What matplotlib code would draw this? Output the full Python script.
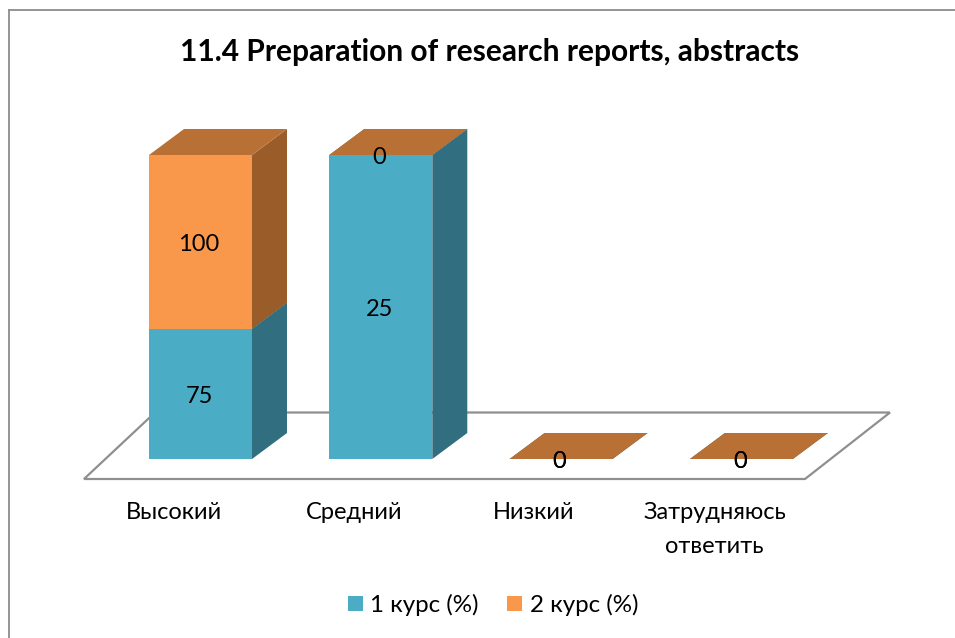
import numpy as np
import matplotlib
matplotlib.use('Agg')
import matplotlib.pyplot as plt
from matplotlib.patches import Patch, Polygon, Rectangle

plt.rcParams['font.family'] = ['Lato', 'Open Sans', 'DejaVu Sans']

# data
title = '11.4 Preparation of research reports, abstracts'
categories = ['Высокий', 'Средний', 'Низкий', 'Затрудняюсь\nответить']
series_names = ['1 курс (%)', '2 курс (%)']
course1 = [75, 25, 0, 0]
course2 = [100, 0, 0, 0]

front_colors = ['#4BACC6', '#F9974A']
side_colors = ['#316E80', '#9A5D2A']
top_colors = ['#316E80', '#B97034']

# layout in pixels
W, H = 955, 638
BAR_W = 103
PITCH = 180.3
X0 = 149
Y_BASE = 459
Y_FULL = 155
DX, DY = 35, -26
LABEL_SIZE = 17


def x_pos(i):
    return X0 + i * PITCH


def y_pos(share):
    return Y_BASE - share * (Y_BASE - Y_FULL)


fig = plt.figure(figsize=(W / 100, H / 100), dpi=100)
ax = fig.add_axes([0, 0, 1, 1])
ax.set_xlim(0, W)
ax.set_ylim(H, 0)
ax.axis('off')

# chart frame, cut off by the picture on the right and bottom
ax.plot([8.5, 8.5], [H, 9.5], color='#8C8C8C', lw=1.3)
ax.plot([8.5, W], [9.5, 9.5], color='#8C8C8C', lw=1.3)

ax.text(490, 52, title, ha='center', va='center', fontsize=21.5, fontweight='bold')

# floor
floor = [(84, 479), (805, 479), (890, 412.5), (155, 412.5)]
ax.add_patch(Polygon(floor, closed=True, fc='white', ec='#8F8F8F', lw=1.6, zorder=1))

values = np.array([course1, course2], dtype=float)
totals = values.sum(axis=0)

for i in range(len(categories)):
    left = x_pos(i)
    right = left + BAR_W
    base = 0.0
    for s in range(len(series_names)):
        share = values[s, i] / totals[i] if totals[i] > 0 else 0.0
        y0 = y_pos(base)
        y1 = y_pos(base + share)
        ax.add_patch(Rectangle((left, y1), BAR_W, y0 - y1, fc=front_colors[s], ec='none', zorder=3))
        ax.add_patch(Polygon([(right, y0), (right + DX, y0 + DY), (right + DX, y1 + DY), (right, y1)],
                             closed=True, fc=side_colors[s], ec='none', zorder=3))
        ax.add_patch(Polygon([(left, y1), (right, y1), (right + DX, y1 + DY), (left + DX, y1 + DY)],
                             closed=True, fc=top_colors[s], ec='none', zorder=3))
        ax.text((left + right) / 2 - 1.5, (y0 + y1) / 2 + 2.5, str(values[s, i].astype(int)),
                ha='center', va='center', fontsize=LABEL_SIZE, zorder=5)
        base += share
    ax.text(left + BAR_W / 2 - 27, 502, categories[i], ha='center', va='top', fontsize=LABEL_SIZE, linespacing=1.76)

handles = [Patch(fc=c, ec='none') for c in front_colors]
ax.legend(handles, series_names, loc='center', bbox_to_anchor=(493 / W, 1 - 605 / H), ncol=2, frameon=False,
          fontsize=17.4, handlelength=0.62, handleheight=0.62, handletextpad=0.33, columnspacing=1.16)

fig.savefig('out.png', dpi=100)
